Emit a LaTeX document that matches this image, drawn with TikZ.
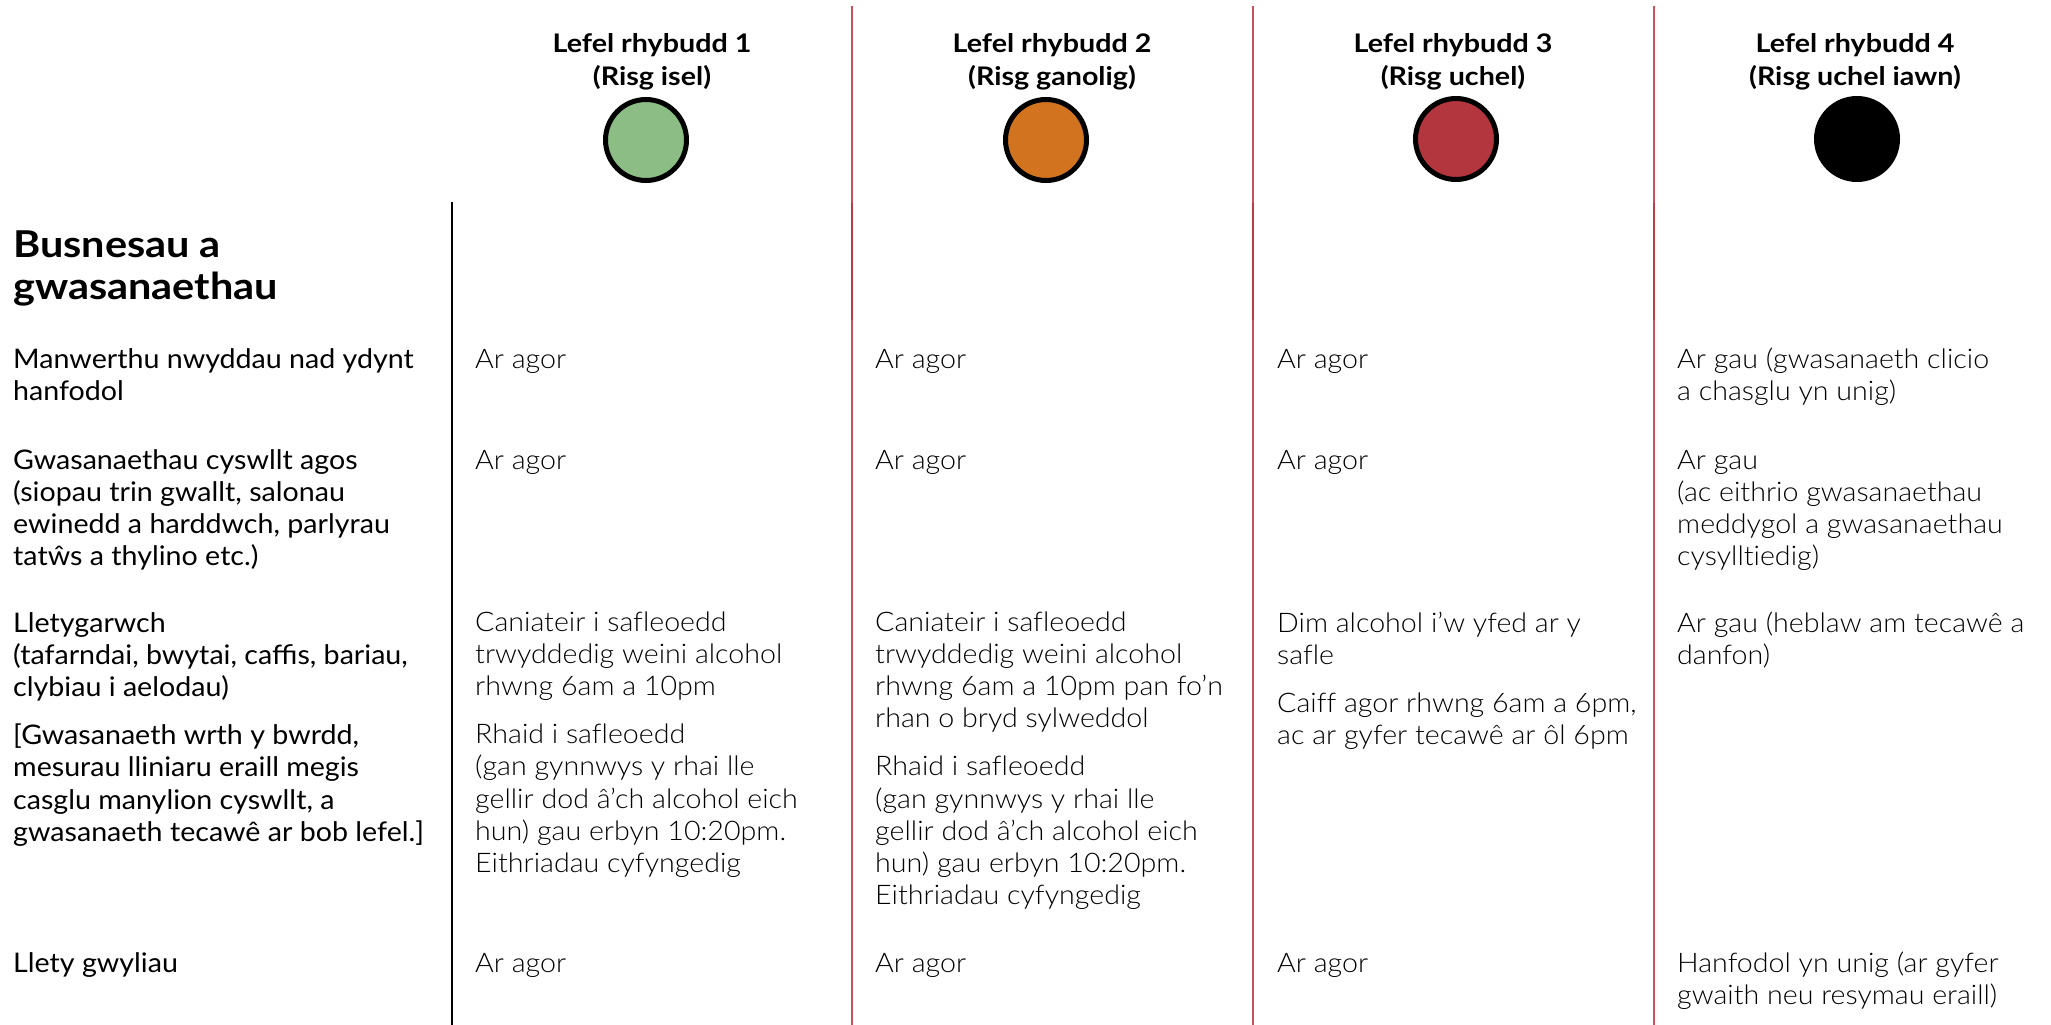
\documentclass[tikz,border=0pt]{standalone}
\usepackage{fontspec}
\setmainfont{Lato}[FakeStretch=1.06, BoldFeatures={FakeStretch=1.12}]
\newfontfamily\lightfont{Lato Light}[FakeStretch=1.06, Ligatures=NoCommon]
\definecolor{lampgreen}{HTML}{8BBD85}
\definecolor{lamporange}{HTML}{D2731F}
\definecolor{lampred}{HTML}{B3353D}
\definecolor{rule}{HTML}{CC5058}
\definecolor{ruledark}{HTML}{BE3A42}
\begin{document}
\begin{tikzpicture}[x=1pt,y=-1pt,
  hdr/.style={anchor=base, align=center, inner sep=0pt, font=\bfseries\fontsize{25.6}{33}\selectfont},
  lamp/.style={circle, draw=black, line width=5pt, minimum size=81pt, inner sep=0pt},
  title/.style={anchor=base west, align=left, inner sep=0pt, font=\bfseries\fontsize{37}{42}\selectfont},
  lbl/.style={anchor=base west, align=left, inner sep=0pt, font=\fontsize{27}{32.3}\selectfont},
  cell/.style={anchor=base west, align=left, inner sep=0pt, font=\lightfont\fontsize{27}{32.3}\selectfont},
  blackrule/.style={draw=black, line width=2pt},
  redrule/.style={draw=rule, line width=2pt},
  redrulemid/.style={draw=ruledark, line width=2pt}]
\useasboundingbox[fill=white] (0,0) rectangle (2051,1025);

% column rules
\coordinate (b0t) at (452,202); \coordinate (b0b) at (452,1025);
\coordinate (r1t) at (852,6);   \coordinate (r1b) at (852,1025);
\coordinate (r2t) at (1253,6);  \coordinate (r2b) at (1253,1025);
\coordinate (r3t) at (1654,6);  \coordinate (r3b) at (1654,1025);
\coordinate (r1m) at (852,203);  \coordinate (r1n) at (852,320);
\coordinate (r2m) at (1253,203); \coordinate (r2n) at (1253,320);
\coordinate (r3m) at (1654,203); \coordinate (r3n) at (1654,320);
\draw[blackrule] (b0t) -- (b0b);
\draw[redrule] (r1t) -- (r1b);
\draw[redrule] (r2t) -- (r2b);
\draw[redrule] (r3t) -- (r3b);
\draw[redrulemid] (r1m) -- (r1n);
\draw[redrulemid] (r2m) -- (r2n);
\draw[redrulemid] (r3m) -- (r3n);

% headers (anchor = baseline of last line)
\node[hdr] (h1) at (652,85) {Lefel rhybudd 1\\(Risg isel)};
\node[hdr] (h2) at (1052,85) {Lefel rhybudd 2\\(Risg ganolig)};
\node[hdr] (h3) at (1453,85) {Lefel rhybudd 3\\(Risg uchel)};
\node[hdr] (h4) at (1855,85) {Lefel rhybudd 4\\(Risg uchel iawn)};

% lamps
\node[lamp, fill=lampgreen] (l1) at (646,140) {};
\node[lamp, fill=lamporange] (l2) at (1046,140) {};
\node[lamp, fill=lampred] (l3) at (1456,139) {};
\node[lamp, fill=black] (l4) at (1857,139) {};

% title
\node[title] (t) at (13,299) {Busnesau a\\gwasanaethau};

% row labels (anchor = baseline of last line)
\node[lbl] (a1) at (13,400.3) {Manwerthu nwyddau nad ydynt\\hanfodol};
\node[lbl] (a2) at (13,565.9) {Gwasanaethau cyswllt agos\\(siopau trin gwallt, salonau\\ewinedd a harddwch, parlyrau\\tatŵs a thylino etc.)};
\node[lbl] (a3) at (13,841.3) {Lletygarwch\\(tafarndai, bwytai, caffis, bariau,\\clybiau i aelodau)\\[15.5pt]{[}Gwasanaeth wrth y bwrdd,\\mesurau lliniaru eraill megis\\casglu manylion cyswllt, a\\gwasanaeth tecawê ar bob lefel.{]}};
\node[lbl] (a4) at (13,972) {Llety gwyliau};

% column 1
\node[cell] (c11) at (475,368) {Ar agor};
\node[cell] (c12) at (475,469) {Ar agor};
\node[cell] (c13) at (475,872.6) {Caniateir i safleoedd\\trwyddedig weini alcohol\\rhwng 6am a 10pm\\[15.5pt]Rhaid i safleoedd\\(gan gynnwys y rhai lle\\gellir dod â’ch alcohol eich\\hun) gau erbyn 10:20pm.\\Eithriadau cyfyngedig};
\node[cell] (c14) at (475,972) {Ar agor};

% column 2
\node[cell] (c21) at (875,368) {Ar agor};
\node[cell] (c22) at (875,469) {Ar agor};
\node[cell] (c23) at (875,904.9) {Caniateir i safleoedd\\trwyddedig weini alcohol\\rhwng 6am a 10pm pan fo’n\\rhan o bryd sylweddol\\[15.5pt]Rhaid i safleoedd\\(gan gynnwys y rhai lle\\gellir dod â’ch alcohol eich\\hun) gau erbyn 10:20pm.\\Eithriadau cyfyngedig};
\node[cell] (c24) at (875,972) {Ar agor};

% column 3
\node[cell] (c31) at (1277,368) {Ar agor};
\node[cell] (c32) at (1277,469) {Ar agor};
\node[cell] (c33) at (1277,744.4) {Dim alcohol i’w yfed ar y\\safle\\[15.5pt]Caiff agor rhwng 6am a 6pm,\\ac ar gyfer tecawê ar ôl 6pm};
\node[cell] (c34) at (1277,972) {Ar agor};

% column 4
\node[cell] (c41) at (1677,400.3) {Ar gau (gwasanaeth clicio\\a chasglu yn unig)};
\node[cell] (c42) at (1677,565.9) {Ar gau\\(ac eithrio gwasanaethau\\meddygol a gwasanaethau\\cysylltiedig)};
\node[cell] (c43) at (1677,664.3) {Ar gau (heblaw am tecawê a\\danfon)};
\node[cell] (c44) at (1677,1004.3) {Hanfodol yn unig (ar gyfer\\gwaith neu resymau eraill)};
\end{tikzpicture}
\end{document}
